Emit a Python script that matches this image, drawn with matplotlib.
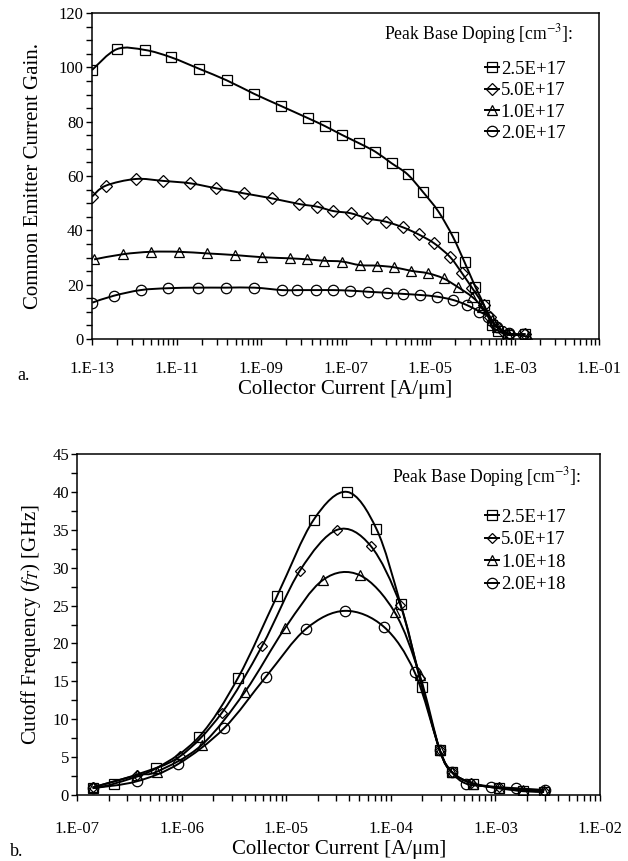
import numpy as np
import matplotlib
matplotlib.use("Agg")
import matplotlib.pyplot as plt
from matplotlib.path import Path
from matplotlib.patches import PathPatch
from matplotlib.ticker import FixedLocator, FuncFormatter, MultipleLocator, LogLocator

plt.rcParams['font.family'] = ['Liberation Serif', 'DejaVu Serif']
plt.rcParams['mathtext.fontset'] = 'stix'

# ---- panel a: current gain vs collector current (x stored as log10 of I [A/um])
a_labels = ["2.5E+17", "5.0E+17", "1.0E+17", "2.0E+17"]
a_sq_logI = [-13.0, -12.41, -11.75, -11.13, -10.47, -9.81, -9.17, -8.53, -7.89, -7.49, -7.08, -6.67,
             -6.29, -5.91, -5.53, -5.16, -4.80, -4.46, -4.18, -3.93, -3.72, -3.54, -3.38, -3.15, -2.74]
a_sq_gain = [99.0, 106.7, 106.4, 103.7, 99.5, 95.2, 90.3, 85.8, 81.3, 78.4, 75.1, 72.0,
             68.9, 64.7, 60.6, 54.0, 46.9, 37.7, 28.2, 19.3, 12.5, 5.0, 3.0, 1.5, 1.8]
a_dm_logI = [-13.0, -12.68, -11.97, -11.32, -10.67, -10.07, -9.40, -8.75, -8.10, -7.67, -7.29, -6.88, -6.48,
             -6.05, -5.64, -5.27, -4.90, -4.52, -4.25, -4.00, -3.73, -3.58, -3.46, -3.26, -3.10, -2.74]
a_dm_gain = [52.4, 56.4, 58.9, 58.2, 57.3, 55.5, 53.6, 51.8, 49.7, 48.7, 47.1, 46.3, 44.4,
             43.2, 41.1, 38.5, 35.2, 30.1, 24.4, 18.7, 12.5, 8.2, 5.2, 2.7, 1.8, 1.8]
a_tr_logI = [-12.95, -12.27, -11.61, -10.95, -10.27, -9.62, -8.97, -8.32, -7.90, -7.50, -7.08, -6.66,
             -6.25, -5.85, -5.45, -5.05, -4.68, -4.33, -4.01, -3.77, -3.54, -3.42, -3.18, -2.67]
a_tr_gain = [29.3, 31.2, 32.1, 32.1, 31.5, 30.9, 30.1, 29.7, 29.3, 28.8, 28.5, 27.2,
             27.0, 26.4, 25.1, 24.2, 22.3, 19.0, 15.6, 11.9, 7.0, 4.5, 2.1, 0.9]
a_ci_logI = [-12.99, -12.49, -11.85, -11.20, -10.50, -9.84, -9.16, -8.50, -8.14, -7.70, -7.30, -6.89,
             -6.47, -6.02, -5.63, -5.23, -4.84, -4.46, -4.13, -3.83, -3.62, -3.42, -3.14, -2.79]
a_ci_gain = [13.4, 15.9, 18.0, 18.7, 18.9, 18.9, 18.9, 18.0, 18.0, 18.0, 18.0, 17.8,
             17.4, 17.0, 16.6, 16.2, 15.6, 14.4, 12.5, 10.1, 8.2, 4.5, 2.1, 1.7]

# ---- panel b: cutoff frequency vs collector current
b_labels = ["2.5E+17", "5.0E+17", "1.0E+18", "2.0E+18"]
b_sq_logI = [-6.853, -6.646, -6.248, -5.834, -5.461, -5.088, -4.740, -4.419, -4.138, -3.908, -3.698,
             -3.532, -3.415, -3.214, -2.968, -2.736, -2.535]
b_sq_ft = [0.9, 1.5, 3.5, 7.7, 15.5, 26.3, 36.3, 40.0, 35.1, 25.2, 14.2, 5.9, 3.0, 1.5, 0.9, 0.5, 0.4]
b_dm_logI = [-6.853, -6.432, -6.018, -5.62, -5.231, -4.871, -4.514, -4.195, -3.91, -3.724, -3.532,
             -3.415, -3.23, -2.97, -2.54]
b_dm_ft = [1.0, 2.7, 5.1, 10.8, 19.7, 29.6, 35.0, 32.9, 25.1, 15.4, 5.9, 3.0, 1.6, 1.0, 0.5]
b_tr_logI = [-6.853, -6.432, -6.235, -5.81, -5.397, -5.014, -4.648, -4.297, -3.963, -3.724, -3.532,
             -3.415, -3.214, -2.968, -2.736, -2.535]
b_tr_ft = [1.0, 2.6, 3.1, 6.6, 13.6, 22.0, 28.4, 29.0, 24.1, 15.8, 5.9, 3.0, 1.5, 0.9, 0.66, 0.4]
b_ci_logI = [-6.853, -6.432, -6.034, -5.597, -5.196, -4.814, -4.441, -4.068, -3.773, -3.532, -3.415,
             -3.28, -3.038, -2.806, -2.529]
b_ci_ft = [0.9, 1.8, 4.1, 8.8, 15.6, 21.9, 24.3, 22.2, 16.2, 5.9, 3.0, 1.5, 1.1, 0.9, 0.66]


def smooth_path(logx, y):
    # excel style smoothed line: bezier segments through every point
    p = np.column_stack([logx, y]).astype(float)
    n = len(p)
    verts = [p[0]]
    codes = [Path.MOVETO]
    for i in range(n - 1):
        p0 = p[i - 1] if i > 0 else p[i]
        p3 = p[i + 2] if i + 2 < n else p[i + 1]
        verts += [p[i] + (p[i + 1] - p0) / 6, p[i + 1] - (p3 - p[i]) / 6, p[i + 1]]
        codes += [Path.CURVE4] * 3
    v = np.array(verts)
    v[:, 0] = 10 ** v[:, 0]
    return Path(v, codes)


def draw_series(ax, logx, y, marker, ms, label):
    ax.add_patch(PathPatch(smooth_path(logx, y), fill=False, lw=1.4, ec='black',
                           transform=ax.transData))
    ax.plot(10 ** np.array(logx), y, ls='none', marker=marker, ms=ms, mfc='none',
            mec='black', mew=0.9)
    # legend handle
    return ax.plot([], [], color='black', lw=1.4, marker=marker, ms=ms, mfc='none',
                   mec='black', mew=0.9, label=label)[0]


fmt = FuncFormatter(lambda v, p: '1.E%+03d' % int(round(np.log10(v))))

fig = plt.figure(figsize=(6.28, 8.61), dpi=100)

# ---------------- panel a
ax1 = fig.add_axes([92 / 628, 1 - 339 / 861, 507 / 628, 326 / 861])
hs = []
hs.append(draw_series(ax1, a_sq_logI, a_sq_gain, 's', 7.2, a_labels[0]))
hs.append(draw_series(ax1, a_dm_logI, a_dm_gain, 'D', 6.2, a_labels[1]))
hs.append(draw_series(ax1, a_tr_logI, a_tr_gain, '^', 7.5, a_labels[2]))
hs.append(draw_series(ax1, a_ci_logI, a_ci_gain, 'o', 7.5, a_labels[3]))
ax1.set_xscale('log')
ax1.set_xlim(1e-13, 1e-1)
ax1.set_ylim(0, 120)
ax1.xaxis.set_major_locator(FixedLocator([10.0 ** k for k in range(-13, 0, 2)]))
ax1.xaxis.set_minor_locator(FixedLocator([10 ** (k + 2 * np.log10(m)) for k in range(-13, -1, 2) for m in range(2, 10)]))
ax1.xaxis.set_major_formatter(fmt)
ax1.xaxis.set_minor_formatter(FuncFormatter(lambda v, p: ''))
ax1.yaxis.set_major_locator(MultipleLocator(20))
ax1.yaxis.set_minor_locator(MultipleLocator(5))
ax1.set_xlabel('Collector Current [A/μm]', fontsize=15)
ax1.set_ylabel('Common Emitter Current Gain.', fontsize=15)
ax1.xaxis.set_label_coords(0.5, -0.125)
ax1.yaxis.set_label_coords(-0.097, 0.5)
ax1.text(0.576, 0.936, 'Peak Base Doping [cm$^{-3}$]:', transform=ax1.transAxes,
         fontsize=12.7, ha='left', va='center')
ax1.legend(handles=hs, loc='upper left', bbox_to_anchor=(0.775, 0.853), frameon=False,
           fontsize=13.5, borderpad=0, borderaxespad=0, handlelength=0.75, handletextpad=0.1,
           labelspacing=0.22)

# ---------------- panel b
ax2 = fig.add_axes([77.3 / 628, 1 - 795 / 861, 522.7 / 628, 341 / 861])
hs = []
hs.append(draw_series(ax2, b_sq_logI, b_sq_ft, 's', 7.5, b_labels[0]))
hs.append(draw_series(ax2, b_dm_logI, b_dm_ft, 'D', 5.5, b_labels[1]))
hs.append(draw_series(ax2, b_tr_logI, b_tr_ft, '^', 7.5, b_labels[2]))
hs.append(draw_series(ax2, b_ci_logI, b_ci_ft, 'o', 7.5, b_labels[3]))
ax2.set_xscale('log')
ax2.set_xlim(1e-7, 1e-2)
ax2.set_ylim(0, 45)
ax2.xaxis.set_major_locator(FixedLocator([10.0 ** k for k in range(-7, -1)]))
ax2.xaxis.set_minor_locator(LogLocator(base=10, subs=np.arange(2, 10)))
ax2.xaxis.set_major_formatter(fmt)
ax2.xaxis.set_minor_formatter(FuncFormatter(lambda v, p: ''))
ax2.yaxis.set_major_locator(MultipleLocator(5))
ax2.yaxis.set_minor_locator(MultipleLocator(2.5))
ax2.set_xlabel('Collector Current [A/μm]', fontsize=15)
ax2.set_ylabel('Cutoff Frequency ($f_T$) [GHz]', fontsize=15)
ax2.xaxis.set_label_coords(0.5, -0.132)
ax2.yaxis.set_label_coords(-0.065, 0.5)
ax2.text(0.6015, 0.9334, 'Peak Base Doping [cm$^{-3}$]:', transform=ax2.transAxes,
         fontsize=12.7, ha='left', va='center')
ax2.legend(handles=hs, loc='upper left', bbox_to_anchor=(0.78, 0.8397), frameon=False,
           fontsize=13.5, borderpad=0, borderaxespad=0, handlelength=0.75, handletextpad=0.1,
           labelspacing=0.29)

for ax in (ax1, ax2):
    for s in ax.spines.values():
        s.set_linewidth(1.1)
    ax.tick_params(which='both', direction='out', length=4, width=1, labelsize=12)
    ax.tick_params(axis='y', which='major', pad=2)
ax1.tick_params(axis='x', which='major', pad=12)
ax2.tick_params(axis='x', which='major', pad=15)

fig.text(17 / 628, 1 - 376 / 861, 'a.', fontsize=13, ha='left', va='center')
fig.text(10 / 628, 1 - 851 / 861, 'b.', fontsize=13, ha='left', va='center')

fig.savefig('out.png', dpi=100)
